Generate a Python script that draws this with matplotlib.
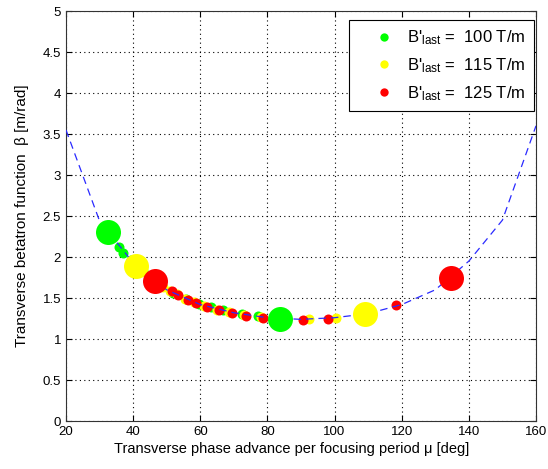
import numpy as np
import matplotlib
matplotlib.use("Agg")
from matplotlib import pyplot as plt
from matplotlib.lines import Line2D

plt.rcParams['font.family'] = ['Liberation Sans', 'DejaVu Sans']
plt.rcParams['mathtext.default'] = 'regular'

# beta function curve (dashed line)
mu_curve = [20, 30, 40, 50, 60, 70, 80, 90, 100, 110, 120, 130, 140, 150, 160]
beta_curve = [3.55, 2.44, 1.93, 1.60, 1.42, 1.32, 1.26, 1.24, 1.26, 1.31, 1.42, 1.60, 1.95, 2.45, 3.60]

# B'last = 100 T/m
mu_green = [35.9, 37.1, 39.5, 43.0, 47.5, 52.0, 55.8, 59.5, 63.2, 66.9, 72.3, 77.3]
beta_green = [2.12, 2.05, 1.96, 1.83, 1.68, 1.565, 1.49, 1.43, 1.39, 1.35, 1.31, 1.28]
mu_green_end = [32.6, 83.7]
beta_green_end = [2.30, 1.25]

# B'last = 115 T/m
mu_yellow = [48.8, 50.9, 53.0, 55.6, 58.0, 61.2, 64.9, 68.7, 72.9, 78.1, 92.3, 100.3]
beta_yellow = [1.63, 1.585, 1.545, 1.49, 1.45, 1.40, 1.36, 1.325, 1.29, 1.265, 1.24, 1.26]
mu_yellow_end = [40.85, 109.1]
beta_yellow_end = [1.89, 1.31]

# B'last = 125 T/m
mu_red = [51.5, 53.5, 56.4, 58.7, 61.9, 65.7, 69.4, 73.6, 78.8, 90.7, 98.0, 118.3]
beta_red = [1.58, 1.54, 1.48, 1.44, 1.39, 1.35, 1.32, 1.28, 1.26, 1.23, 1.25, 1.41]
mu_red_end = [46.5, 134.6]
beta_red_end = [1.71, 1.75]

labels = ["B'$_{last}$ =  100 T/m", "B'$_{last}$ =  115 T/m", "B'$_{last}$ =  125 T/m"]
colors = ['#00ff00', '#ffff00', '#ff0000']

fig = plt.figure(figsize=(5.48, 4.69), dpi=100)
ax = fig.add_axes([0.1204, 0.1023, 0.8577, 0.8742])

small = [(mu_green, beta_green), (mu_yellow, beta_yellow), (mu_red, beta_red)]
big = [(mu_green_end, beta_green_end), (mu_yellow_end, beta_yellow_end), (mu_red_end, beta_red_end)]

for (m, b), c in zip(small, colors):
    ax.plot(m, b, 'o', color=c, markersize=7.2, markeredgewidth=0, zorder=2)

ax.plot(mu_curve, beta_curve, color='#2a2aff', linewidth=0.9, dashes=(6, 4), zorder=3)

for (m, b), c in zip(big, colors):
    ax.plot(m, b, 'o', color=c, markersize=18, markeredgewidth=0, zorder=4)

ax.set_xlim(20, 160)
ax.set_ylim(0, 5)
ax.set_xticks(np.arange(20, 161, 20))
ax.set_yticks(np.arange(0, 5.01, 0.5))
ax.set_yticklabels(['0', '0.5', '1', '1.5', '2', '2.5', '3', '3.5', '4', '4.5', '5'])
ax.grid(True, color='black', linestyle=(0, (1, 3)), linewidth=0.8)
ax.tick_params(direction='in', top=True, right=True, labelsize=9.5, length=4, width=0.8)
for s in ax.spines.values():
    s.set_linewidth(0.8)
    s.set_color('#333333')

ax.set_xlabel('Transverse phase advance per focusing period μ [deg]', fontsize=10.5)
ax.xaxis.set_label_coords(0.48, -0.05)
ax.set_ylabel('Transverse betatron function  β [m/rad]', fontsize=11, labelpad=10)

handles = [Line2D([], [], linestyle='none', marker='o', color=c, markersize=6, markeredgewidth=0) for c in colors]
leg = ax.legend(handles, labels, loc='upper right', bbox_to_anchor=(0.9957, 0.978),
                fontsize=12, frameon=True, fancybox=False, edgecolor='black', framealpha=1,
                borderaxespad=0, labelspacing=0.55, handletextpad=-0.2, borderpad=0.5,
                handlelength=3.2)
leg.get_frame().set_linewidth(0.8)

fig.savefig('out.png', dpi=100)
